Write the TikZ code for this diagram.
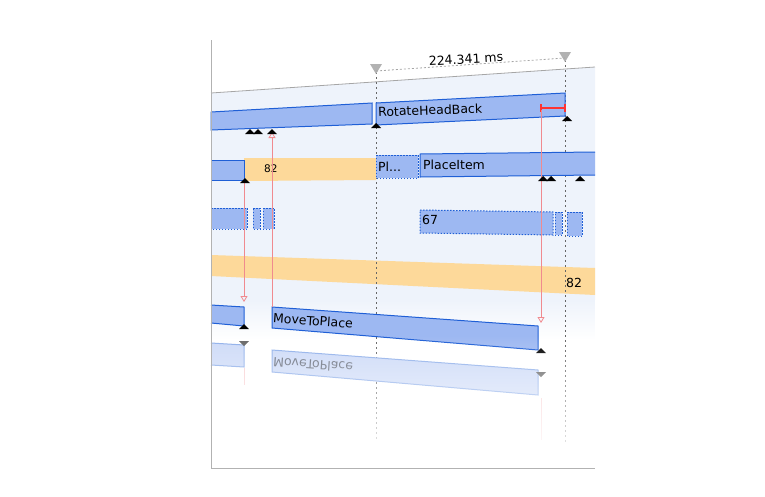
\documentclass[tikz,border=0pt]{standalone}
\usepackage{fontspec}
\setmainfont{DejaVu Sans}
\usetikzlibrary{fadings,arrows.meta}
\definecolor{barfill}{HTML}{9DB8F2}
\definecolor{barline}{HTML}{1F5FD6}
\definecolor{orangeb}{HTML}{FDD99A}
\definecolor{bgblue}{HTML}{EEF3FB}
\definecolor{pinkl}{HTML}{F08A8F}
\tikzset{
 bar/.style={fill=barfill,draw=barline,line width=1pt},
 dbar/.style={fill=barfill,draw=barline,line width=1pt,dash pattern=on 1.5pt off 1.5pt},
 fbar/.style={fill=barfill!50,draw=barline!50,line width=1pt},
 tri/.style={fill=black},
 vdash/.style={draw=gray!80!black,line width=1pt,dash pattern=on 2pt off 3pt},
 conn/.style={draw=pinkl,line width=0.8pt,-{Triangle[open,length=6pt,width=7pt]}},
 lbl/.style={font=\fontsize{12.5}{14}\selectfont,inner sep=0pt}
}
\begin{document}
\begin{tikzpicture}[x=1pt,y=-1pt]
\useasboundingbox (0,0) rectangle (765,496);
% background
\fill[bgblue] (211,93) -- (595,67) -- (595,300) -- (211,300) -- cycle;
\fill[bgblue,path fading=south] (211,300) rectangle (595,340);
\draw[gray!70,line width=0.8pt] (211,93) -- (595,67);
% orange band row 4
\fill[orangeb] (211,255) -- (595,268) -- (595,295) -- (211,276) -- cycle;
\node[lbl,anchor=west] (n82b) at (566,283) {82};
% dashed verticals
\draw[vdash] (376,72) -- (376,440);
\draw[vdash] (565,60) -- (565,462);
% top markers
\fill[gray!60] (370,64) -- (382,64) -- (376,74) -- cycle;
\fill[gray!60] (559,52) -- (571,52) -- (565,62) -- cycle;
\draw[gray!70,line width=0.8pt,dash pattern=on 2pt off 2pt] (376,71) -- (565,58);
\node[lbl,rotate=3] (ms) at (466,59) {224.341 ms};
% row 1
\draw[bar] (211,112) -- (372,103) -- (372,124) -- (211,130) -- cycle;
\draw[bar] (376,103) -- (565,93) -- (565,116) -- (376,125) -- cycle;
\node[lbl,anchor=west,rotate=2] (rhb) at (378,112) {RotateHeadBack};
\draw[red!80,line width=1.2pt] (541,104) -- (541,112) (541,108) -- (565,108) (565,104) -- (565,112);
% row 2
\fill[orangeb] (244,158) -- (376,158) -- (376,180) -- (244,181) -- cycle;
\draw[bar] (211,160) -- (244,160) -- (244,180) -- (211,180);
\node[lbl,anchor=west,font=\fontsize{10.5}{12}\selectfont] (n82) at (264,169) {82};
\draw[dbar] (376,155) -- (418,155) -- (418,178) -- (376,178) -- cycle;
\node[lbl,anchor=west] (pl) at (378,167) {Pl...};
\draw[bar] (595,152) -- (420,154) -- (420,177) -- (595,175);
\node[lbl,anchor=west] (pi) at (423,165) {PlaceItem};
% row 3
\draw[dbar] (211,208) -- (247,208) -- (247,229) -- (211,229);
\draw[dbar] (253,208) -- (260,208) -- (260,229) -- (253,229) -- cycle;
\draw[dbar] (263,208) -- (274,208) -- (274,229) -- (263,229) -- cycle;
\draw[dbar] (420,210) -- (553,212) -- (553,235) -- (420,233) -- cycle;
\node[lbl,anchor=west] (n67) at (422,220) {67};
\draw[dbar] (555,212) -- (562,212) -- (562,235) -- (555,235) -- cycle;
\draw[dbar] (567,212) -- (582,212) -- (582,236) -- (567,236) -- cycle;
% row 5
\draw[bar] (211,305) -- (244,307) -- (244,326) -- (211,323);
\draw[bar] (272,307) -- (538,326) -- (538,350) -- (272,328) -- cycle;
\node[lbl,anchor=west,rotate=-4] (mtp) at (273,318) {MoveToPlace};
% reflections
\draw[fbar] (211,343) -- (244,345) -- (244,367) -- (211,365);
\draw[fbar] (272,350) -- (538,370) -- (538,395) -- (272,372) -- cycle;
\node[lbl,anchor=west,rotate=-4,opacity=0.5,yscale=-1] (mtpr) at (273,362) {MoveToPlace};
% connectors
\coordinate (c1a) at (244,182); \coordinate (c1b) at (244,302);
\coordinate (c2a) at (272,307); \coordinate (c2b) at (272,132);
\coordinate (c3a) at (541,110); \coordinate (c3b) at (541,323);
\draw[conn] (c1a) -- (c1b);
\draw[conn] (c2a) -- (c2b);
\draw[conn] (c3a) -- (c3b);
\draw[pinkl!40,line width=0.8pt] (244,368) -- (244,385) (541,398) -- (541,440);
% triangles
\foreach \x/\y in {250/134,258/134,272/134,376/128,567/121,245/183,543/181,551/181,580/181,244/329,541/353}
  \fill[tri] (\x-5,\y) -- (\x+5,\y) -- (\x,\y-5) -- cycle;
\foreach \x/\y in {244/341,541/372}
  \fill[black!60] (\x-5,\y) -- (\x+5,\y) -- (\x,\y+5) -- cycle;
% fade
\fill[white,path fading=north] (211,335) rectangle (596,468);
\fill[white] (211,445) rectangle (596,468);
% frame
\draw[gray!60,line width=0.8pt] (211,40) -- (211,468) -- (595,468);
\end{tikzpicture}
\end{document}
